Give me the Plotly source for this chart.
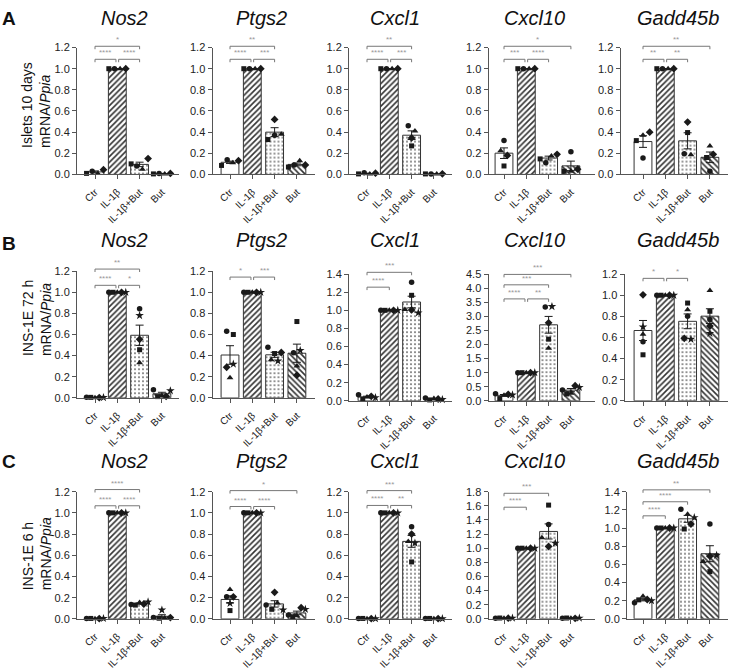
import plotly.graph_objects as go

# ---------------- data ----------------
CATEGORIES = ["Ctr", "IL-1β", "IL-1β+But", "But"]
GENES = ["Nos2", "Ptgs2", "Cxcl1", "Cxcl10", "Gadd45b"]
ROW_LETTERS = ["A", "B", "C"]
ROW_TITLES = ["Islets 10 days", "INS-1E 72 h", "INS-1E 6 h"]

Y_MAX_A = [1.2, 1.2, 1.2, 1.2, 1.2]
Y_MAX_B = [1.2, 1.2, 1.4, 4.5, 1.2]
Y_MAX_C = [1.2, 1.2, 1.2, 1.8, 1.4]
Y_STEP_A = [0.2, 0.2, 0.2, 0.2, 0.2]
Y_STEP_B = [0.2, 0.2, 0.2, 0.5, 0.2]
Y_STEP_C = [0.2, 0.2, 0.2, 0.2, 0.2]

SYMBOLS_A = ["square", "circle", "triangle-up", "diamond"]
SYMBOLS_BC = ["circle", "square", "triangle-up", "diamond", "star"]

# Row A: Islets 10 days (replicates: square, circle, triangle, diamond)
MEAN_A = {
    "Nos2": [0.024, 1.0, 0.095, 0.008],
    "Ptgs2": [0.115, 1.0, 0.40, 0.095],
    "Cxcl1": [0.009, 1.0, 0.371, 0.005],
    "Cxcl10": [0.201, 1.0, 0.155, 0.081],
    "Gadd45b": [0.311, 1.0, 0.318, 0.162],
}
SEM_A = {
    "Nos2": [0.009, 0.0, 0.021, 0.002],
    "Ptgs2": [0.011, 0.0, 0.042, 0.013],
    "Cxcl1": [0.003, 0.0, 0.041, 0.001],
    "Cxcl10": [0.050, 0.0, 0.018, 0.045],
    "Gadd45b": [0.055, 0.0, 0.076, 0.050],
}
PTS_A = {
    "Nos2": [[0.01, 1.0, 0.10, 0.005], [0.03, 1.0, 0.08, 0.01],
             [0.01, 1.0, 0.05, 0.005], [0.045, 1.0, 0.15, 0.01]],
    "Ptgs2": [[0.085, 1.0, 0.33, 0.07], [0.14, 1.0, 0.37, 0.09],
              [0.11, 1.0, 0.38, 0.13], [0.13, 1.0, 0.52, 0.09]],
    "Cxcl1": [[0.005, 1.0, 0.27, 0.005], [0.015, 1.0, 0.46, 0.005],
              [0.005, 1.0, 0.41, 0.003], [0.012, 1.0, 0.345, 0.006]],
    "Cxcl10": [[0.08, 1.0, 0.147, 0.03], [0.32, 1.0, 0.11, 0.215],
               [0.225, 1.0, 0.175, 0.03], [0.18, 1.0, 0.19, 0.05]],
    "Gadd45b": [[0.32, 1.0, 0.396, 0.16], [0.155, 1.0, 0.195, 0.03],
                [0.37, 1.0, 0.186, 0.27], [0.40, 1.0, 0.495, 0.19]],
}
SIG_A = {
    "Nos2": [(0, 2, "*", 1.212), (0, 1, "****", 1.089), (1, 2, "****", 1.089)],
    "Ptgs2": [(0, 2, "**", 1.212), (0, 1, "****", 1.089), (1, 2, "***", 1.089)],
    "Cxcl1": [(0, 2, "**", 1.212), (0, 1, "****", 1.089), (1, 2, "***", 1.089)],
    "Cxcl10": [(0, 3, "*", 1.212), (0, 1, "***", 1.089), (1, 2, "****", 1.089)],
    "Gadd45b": [(0, 3, "**", 1.212), (0, 1, "**", 1.089), (1, 2, "**", 1.089)],
}

# Row B: INS-1E 72 h (replicates: circle, square, triangle, diamond, star)
MEAN_B = {
    "Nos2": [0.004, 1.0, 0.593, 0.039],
    "Ptgs2": [0.406, 1.0, 0.408, 0.423],
    "Cxcl1": [0.043, 1.0, 1.092, 0.020],
    "Cxcl10": [0.194, 1.0, 2.70, 0.381],
    "Gadd45b": [0.666, 1.0, 0.753, 0.802],
}
SEM_B = {
    "Nos2": [0.001, 0.0, 0.096, 0.014],
    "Ptgs2": [0.088, 0.0, 0.024, 0.086],
    "Cxcl1": [0.008, 0.0, 0.064, 0.004],
    "Cxcl10": [0.030, 0.0, 0.298, 0.057],
    "Gadd45b": [0.095, 0.0, 0.070, 0.070],
}
PTS_B = {
    "Nos2": [[0.005, 1.0, 0.843, 0.078], [0.005, 1.0, 0.456, 0.012],
             [0.002, 1.0, 0.332, 0.02], [0.003, 1.0, 0.555, 0.015],
             [0.004, 1.0, 0.78, 0.068]],
    "Ptgs2": [[0.63, 1.0, 0.48, 0.427], [0.60, 1.0, 0.42, 0.723],
              [0.19, 1.0, 0.36, 0.302], [0.29, 1.0, 0.43, 0.215],
              [0.32, 1.0, 0.35, 0.449]],
    "Cxcl1": [[0.068, 1.0, 1.31, 0.03], [0.018, 1.0, 1.166, 0.01],
              [0.043, 1.0, 1.008, 0.025], [0.05, 1.0, 1.004, 0.02],
              [0.036, 1.0, 0.972, 0.015]],
    "Cxcl10": [[0.25, 1.0, 3.33, 0.384], [0.08, 1.0, 2.19, 0.244],
               [0.20, 1.0, 1.87, 0.267], [0.23, 1.0, 2.77, 0.535],
               [0.21, 1.0, 3.35, 0.477]],
    "Gadd45b": [[0.56, 1.0, 0.80, 0.77], [0.436, 1.0, 0.926, 0.848],
                [0.63, 1.0, 0.863, 1.044], [1.004, 1.0, 0.592, 0.708],
                [0.70, 1.0, 0.583, 0.639]],
}
SIG_B = {
    "Nos2": [(0, 2, "**", 1.22), (0, 1, "****", 1.066), (1, 2, "*", 1.066)],
    "Ptgs2": [(0, 1, "*", 1.144), (1, 2, "***", 1.144)],
    "Cxcl1": [(0, 2, "***", 1.42), (0, 1, "****", 1.256)],
    "Cxcl10": [(0, 3, "***", 4.49), (0, 2, "***", 4.12), (0, 1, "****", 3.62), (1, 2, "**", 3.62)],
    "Gadd45b": [(0, 1, "*", 1.16), (1, 2, "*", 1.16)],
}

# Row C: INS-1E 6 h (replicates: circle, square, triangle, diamond, star)
MEAN_C = {
    "Nos2": [0.003, 1.0, 0.144, 0.024],
    "Ptgs2": [0.183, 1.0, 0.141, 0.056],
    "Cxcl1": [0.003, 1.0, 0.731, 0.003],
    "Cxcl10": [0.010, 1.0, 1.237, 0.010],
    "Gadd45b": [0.210, 1.0, 1.101, 0.717],
}
SEM_C = {
    "Nos2": [0.0005, 0.0, 0.006, 0.015],
    "Ptgs2": [0.034, 0.0, 0.030, 0.017],
    "Cxcl1": [0.0004, 0.0, 0.056, 0.0004],
    "Cxcl10": [0.001, 0.0, 0.107, 0.001],
    "Gadd45b": [0.012, 0.0, 0.038, 0.088],
}
PTS_C = {
    "Nos2": [[0.003, 1.0, 0.135, 0.012], [0.004, 1.0, 0.13, 0.006],
             [0.002, 1.0, 0.155, 0.008], [0.003, 1.0, 0.14, 0.012],
             [0.004, 1.0, 0.16, 0.084]],
    "Ptgs2": [[0.208, 1.0, 0.13, 0.037], [0.078, 1.0, 0.09, 0.02],
              [0.276, 1.0, 0.15, 0.03], [0.208, 1.0, 0.25, 0.105],
              [0.146, 1.0, 0.085, 0.09]],
    "Cxcl1": [[0.003, 1.0, 0.87, 0.003], [0.004, 1.0, 0.537, 0.004],
              [0.002, 1.0, 0.73, 0.002], [0.003, 1.0, 0.80, 0.003],
              [0.002, 1.0, 0.716, 0.002]],
    "Cxcl10": [[0.01, 1.0, 1.334, 0.01], [0.012, 1.0, 1.61, 0.012],
               [0.008, 1.0, 1.149, 0.01], [0.01, 1.0, 1.024, 0.008],
               [0.011, 1.0, 1.07, 0.011]],
    "Gadd45b": [[0.177, 1.0, 1.206, 1.043], [0.209, 1.0, 0.989, 0.52],
                [0.249, 1.0, 1.152, 0.63], [0.213, 1.0, 1.043, 0.69],
                [0.20, 1.0, 1.115, 0.70]],
}
SIG_C = {
    "Nos2": [(0, 2, "****", 1.22), (0, 1, "****", 1.067), (1, 2, "****", 1.067)],
    "Ptgs2": [(0, 3, "*", 1.21), (0, 1, "****", 1.06), (1, 2, "****", 1.06)],
    "Cxcl1": [(0, 2, "***", 1.21), (0, 1, "****", 1.07), (1, 2, "**", 1.07)],
    "Cxcl10": [(0, 2, "***", 1.777), (0, 1, "****", 1.58)],
    "Gadd45b": [(0, 3, "**", 1.42), (0, 2, "****", 1.289), (0, 1, "****", 1.134)],
}

# ---------------- layout geometry (pixels) ----------------
W, H = 729, 672
ROW_Y0 = [[171.5] * 5, [399, 399, 402, 402, 402], [624] * 5]
ROW_YT = [[42.3] * 5, [270, 270, 273, 273, 273], [494.5] * 5]
COL_L = [[77, 212.5, 349, 488.5, 620.5], [77, 212.5, 349, 488.5, 624.5], [77, 212.5, 349, 488.5, 627]]
COL_C0 = [95, 230, 367, 504, 643]
COL_R = [179, 315, 452, 595, 728]
STEP = 22.3
TITLE_X = [124, 261, 394.5, 534, 678]
TITLE_Y = [12.5, 238, 463.5]
LETTER_Y = [13, 241.5, 463.5]
YTITLE_BOTTOM = [147, 359, 597]

PATTERNS = ["", "/", ".", "\\"]
SOLIDITY = [0.3, 0.4, 0.14, 0.4]
SYM_SIZE = {"circle": 5.5, "square": 5, "triangle-up": 6, "diamond": 6, "star": 6.5}
INK = "#1a1a1a"
AXC = "#555555"

ROWS = [
    (MEAN_A, SEM_A, PTS_A, SIG_A, Y_MAX_A, Y_STEP_A, SYMBOLS_A),
    (MEAN_B, SEM_B, PTS_B, SIG_B, Y_MAX_B, Y_STEP_B, SYMBOLS_BC),
    (MEAN_C, SEM_C, PTS_C, SIG_C, Y_MAX_C, Y_STEP_C, SYMBOLS_BC),
]


def spread(values, pxu, thr_px=6.0):
    n = len(values)
    order = sorted(range(n), key=lambda i: values[i])
    offs = [0.0] * n
    clusters, cur = [], [order[0]]
    for idx in order[1:]:
        if (values[idx] - values[cur[-1]]) * pxu < thr_px:
            cur.append(idx)
        else:
            clusters.append(cur)
            cur = [idx]
    clusters.append(cur)
    for cl in clusters:
        k = len(cl)
        if k < 2:
            continue
        st = min(0.3, 0.76 / (k - 1))
        for m, idx in enumerate(sorted(cl)):
            offs[idx] = (m - (k - 1) / 2) * st
    return offs


fig = go.Figure()
layout = {}
shapes = []
annotations = []

for r in range(3):
    means, sems, pts, sigs, ymaxs, ysteps, symbols = ROWS[r]
    for g, gene in enumerate(GENES):
        n = r * 5 + g + 1
        xs = "x" if n == 1 else f"x{n}"
        ys = "y" if n == 1 else f"y{n}"
        Y0, YT = ROW_Y0[r][g], ROW_YT[r][g]
        L, R, c0 = COL_L[r][g], COL_R[g], COL_C0[g]
        top = ymaxs[g]
        pxu = (Y0 - YT) / top

        layout["xaxis" if n == 1 else f"xaxis{n}"] = dict(
            domain=[L / W, R / W], anchor=ys,
            range=[(L - c0) / STEP, (R - c0) / STEP],
            tickvals=[0, 1, 2, 3], ticktext=CATEGORIES, tickangle=-45,
            ticks="outside", ticklen=4, tickcolor=AXC, ticklabelstandoff=3,
            showline=True, linecolor=AXC, linewidth=1,
            showgrid=False, zeroline=False,
            tickfont=dict(size=10, color="#222"), fixedrange=True,
        )
        nt = int(round(top / ysteps[g]))
        layout["yaxis" if n == 1 else f"yaxis{n}"] = dict(
            domain=[(H - Y0) / H, (H - YT) / H], anchor=xs,
            range=[0, top],
            tickvals=[i * ysteps[g] for i in range(nt + 1)], tickformat=".1f",
            ticks="outside", ticklen=4, tickcolor=AXC,
            showline=True, linecolor=AXC, linewidth=1,
            showgrid=False, zeroline=False,
            tickfont=dict(size=11, color="#222"), fixedrange=True,
        )

        fig.add_trace(go.Bar(
            x=[0, 1, 2, 3], y=means[gene], width=0.8,
            xaxis=xs, yaxis=ys,
            marker=dict(
                color="white", line=dict(color="#333", width=1),
                pattern=dict(shape=PATTERNS, fgcolor="#333", bgcolor="white",
                             size=4, solidity=SOLIDITY, fillmode="replace"),
            ),
            error_y=dict(type="data", array=sems[gene], color=INK, thickness=1, width=4),
            showlegend=False, hoverinfo="skip",
        ))

        reps = pts[gene]
        offsets = [[0.0] * 4 for _ in reps]
        for c in range(4):
            col = [rep[c] for rep in reps]
            offs = spread(col, pxu)
            for i in range(len(reps)):
                offsets[i][c] = offs[i]
        for i, rep in enumerate(reps):
            sym = symbols[i]
            fig.add_trace(go.Scatter(
                x=[c + offsets[i][c] for c in range(4)], y=rep,
                mode="markers", xaxis=xs, yaxis=ys, cliponaxis=False,
                marker=dict(symbol=sym, size=SYM_SIZE[sym], color=INK, line=dict(width=0)),
                showlegend=False, hoverinfo="skip",
            ))

        d = 3.0 / (Y0 - YT)
        for (i, j, lab, lev) in sigs[gene]:
            x0, x1 = float(i), float(j)
            for (i2, j2, _, lev2) in sigs[gene]:
                if lev2 == lev and (i2, j2) != (i, j):
                    if j2 == i:
                        x0 += 0.06
                    if i2 == j:
                        x1 -= 0.06
            yl = lev / top
            for (ax0, ay0, ax1, ay1) in [(x0, yl - d, x0, yl), (x0, yl, x1, yl), (x1, yl, x1, yl - d)]:
                shapes.append(dict(type="line", xref=xs, yref=f"{ys} domain",
                                   x0=ax0, y0=ay0, x1=ax1, y1=ay1,
                                   line=dict(color="#777", width=1)))
            annotations.append(dict(x=(x0 + x1) / 2, y=yl, xref=xs, yref=f"{ys} domain",
                                    text=lab, showarrow=False, yanchor="bottom", yshift=0,
                                    font=dict(size=8, color="#999")))

        annotations.append(dict(x=TITLE_X[g] / W, y=(H - TITLE_Y[r]) / H, xref="paper", yref="paper",
                                text=f"<i>{gene}</i>", showarrow=False,
                                xanchor="center", yanchor="middle",
                                font=dict(size=20, color="#111")))

    annotations.append(dict(x=8.5 / W, y=(H - LETTER_Y[r]) / H, xref="paper", yref="paper",
                            text=f"<b>{ROW_LETTERS[r]}</b>", showarrow=False,
                            xanchor="center", yanchor="middle",
                            font=dict(size=19, color="#111")))
    annotations.append(dict(x=36.5 / W, y=(H - YTITLE_BOTTOM[r]) / H, xref="paper", yref="paper",
                            text=f"{ROW_TITLES[r]}<br>mRNA/<i>Ppia</i>", showarrow=False,
                            textangle=-90, align="left",
                            xanchor="center", yanchor="bottom",
                            font=dict(size=14, color="#111")))

fig.update_layout(
    width=W, height=H,
    margin=dict(l=0, r=0, t=0, b=0),
    paper_bgcolor="white", plot_bgcolor="rgba(0,0,0,0)",
    font=dict(family="Liberation Sans, Arial, sans-serif"),
    showlegend=False, barmode="overlay",
    shapes=shapes, annotations=annotations,
    **layout,
)

fig.write_html(
    "out.html",
    config={"displayModeBar": False},
    post_script="document.body.style.margin='0';document.body.style.overflow='hidden';",
)
